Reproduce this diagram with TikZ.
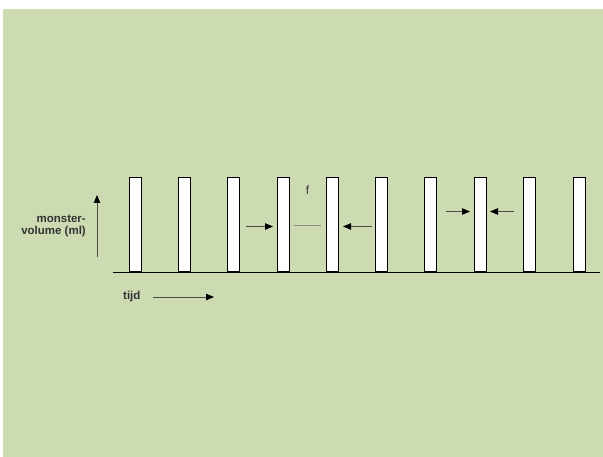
\documentclass[tikz,border=0pt]{standalone}
\usepackage{fontspec}
\setmainfont{Liberation Sans}
\usepackage{tikz}
\usetikzlibrary{arrows.meta}
\definecolor{bggreen}{RGB}{205,219,179}

\begin{document}
\begin{tikzpicture}[x=1pt,y=-1pt,
    bar/.style={draw=black,fill=white,line width=1pt},
    flow/.style={-{Triangle[length=8pt,width=6.5pt,color=black]},line width=0.8pt,color=black!70},
    lbl/.style={font=\fontsize{11.5}{12}\selectfont\bfseries,color=black!80,inner sep=0pt}]
        \useasboundingbox (0,0) rectangle (603,457);
        \fill[white] (0,0) rectangle (603,457);
        \fill[bggreen] (3,9) rectangle (603,457);
        % routine for bars
        \draw[bar] (129,178) rectangle (141.5,272);
        \draw[bar] (178,178) rectangle (190.5,272);
        \draw[bar] (227,178) rectangle (239.5,272);
        \draw[bar] (277,178) rectangle (289.5,272);
        \draw[bar] (326,178) rectangle (338.5,272);
        \draw[bar] (375,178) rectangle (387.5,272);
        \draw[bar] (424,178) rectangle (436.5,272);
        \draw[bar] (474,178) rectangle (486.5,272);
        \draw[bar] (523,178) rectangle (535.5,272);
        \draw[bar] (573,178) rectangle (585.5,272);
        % base line
        \coordinate (base0) at (113,272.5);
        \coordinate (base1) at (600,272.5);
        \draw[line width=1.1pt] (base0)--(base1);
        % axes
        \coordinate (vol0) at (97,257);
        \coordinate (vol1) at (97,195);
        \draw[flow] (vol0)--(vol1);
        \node[lbl,anchor=east,align=right] (vollbl) at (86,226) {monster-\\volume (ml)};
        \node[lbl,anchor=west] (tijd) at (123,297) {tijd};
        \coordinate (tijd0) at (153,297);
        \coordinate (tijd1) at (214,297);
        \draw[flow] (tijd0)--(tijd1);
        % wide interval
        \coordinate (wa0) at (246,226.5);
        \coordinate (wa1) at (273,226.5);
        \coordinate (wb0) at (372,226.5);
        \coordinate (wb1) at (343,226.5);
        \draw[flow] (wa0)--(wa1);
        \draw[flow] (wb0)--(wb1);
        \coordinate (f0) at (294,225);
        \coordinate (f1) at (321,225);
        \draw[line width=0.8pt,color=black!45] (f0)--(f1);
        \node[lbl,font=\fontsize{12}{12}\selectfont] (flbl) at (307.5,190) {f};
        % narrow interval
        \coordinate (na0) at (446,211.5);
        \coordinate (na1) at (470,211.5);
        \coordinate (nb0) at (514,211.5);
        \coordinate (nb1) at (490,211.5);
        \draw[flow] (na0)--(na1);
        \draw[flow] (nb0)--(nb1);
\end{tikzpicture}
\end{document}
